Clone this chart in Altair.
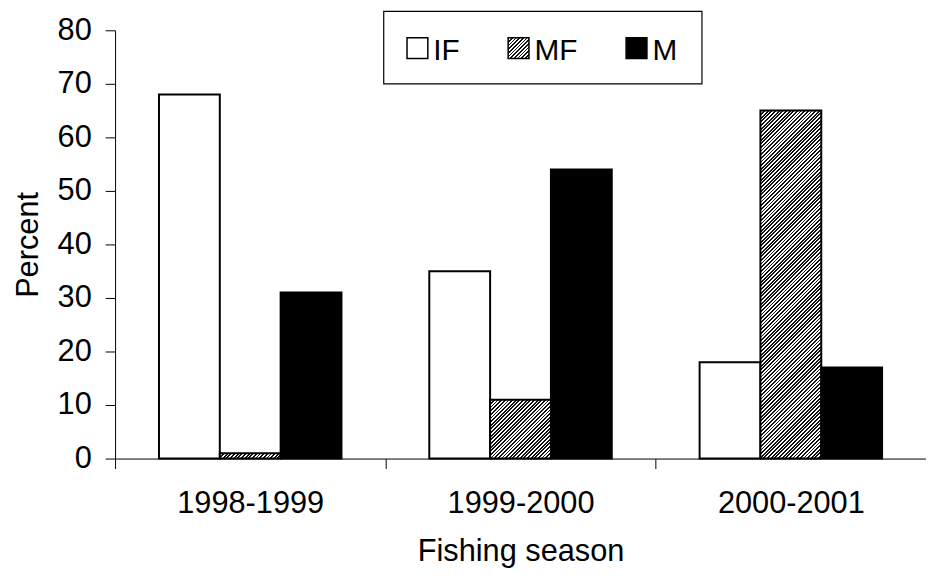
import altair as alt
import pandas as pd

# ---- data ----
seasons = ["1998-1999", "1999-2000", "2000-2001"]
series = ["IF", "MF", "M"]
values_IF = [68, 35, 18]
values_MF = [1, 11, 65]
values_M = [31, 54, 17]
y_ticks = [0, 10, 20, 30, 40, 50, 60, 70, 80]

# ---- style ----
WIDTH, HEIGHT, YMAX = 818, 432, 80
GROUP_PAD = 0.722
FONT = "Liberation Sans"
FS = 31
DARK = "#111111"
LEG_SYM_X = {"IF": 305, "MF": 407, "M": 526}
LEG_SYM_Y = 18
LEG_TXT_Y = 29

rows = []
for i, s in enumerate(seasons):
    for name, vals in zip(series, [values_IF, values_MF, values_M]):
        rows.append({"season": s, "series": name, "value": vals[i]})
df = pd.DataFrame(rows)


def hatch(w, h, period=2.6, frac=0.5):
    """Linear gradient with sharp stops that draws 45-degree '/' stripes in a w x h box."""
    r = h / w
    k = (w + h) / (w * (1 + r * r))
    dt = period * 2 ** 0.5 / (w + h)
    stops = []
    i = 0
    while True:
        a = i * dt
        if a >= 1:
            break
        b = min(a + frac * dt, 1.0)
        c = min(a + dt, 1.0)
        stops += [
            {"offset": round(a, 5), "color": DARK},
            {"offset": round(b, 5), "color": DARK},
            {"offset": round(b, 5), "color": "white"},
            {"offset": round(c, 5), "color": "white"},
        ]
        i += 1
    return {"gradient": "linear", "x1": 0, "y1": 0, "x2": k, "y2": k * r, "stops": stops}


band = WIDTH / len(seasons)
bar_w = band / (len(series) + 2 * GROUP_PAD)

conds = []
for s, v in zip(seasons, values_MF):
    h = max(v / YMAX * HEIGHT, 1.0)
    conds.append({"test": f"datum.series === 'MF' && datum.season === '{s}'",
                  "value": hatch(bar_w, h)})
conds.append({"test": "datum.series === 'M'", "value": "black"})

bars = alt.Chart(df).mark_bar(stroke="black", strokeWidth=2).encode(
    x=alt.X("season:N", sort=seasons,
            scale=alt.Scale(paddingInner=0, paddingOuter=0),
            axis=alt.Axis(title="Fishing season", labelAngle=0, tickBand="extent",
                          tickSize=10, labelPadding=20, labelFont=FONT, labelFontSize=FS,
                          labelColor="black", domainColor="black", tickColor="black",
                          titleFont=FONT, titleFontSize=FS, titleFontWeight="normal",
                          titleColor="black", titleBaseline="alphabetic", titleY=103)),
    xOffset=alt.XOffset("series:N", sort=series,
                        scale=alt.Scale(paddingInner=0, paddingOuter=GROUP_PAD)),
    y=alt.Y("value:Q", scale=alt.Scale(domain=[0, YMAX], nice=False),
            axis=alt.Axis(title="Percent", values=y_ticks, grid=False, tickSize=10,
                          labelPadding=14, labelFont=FONT, labelFontSize=FS,
                          labelColor="black", domainColor="black", tickColor="black",
                          titleFont=FONT, titleFontSize=FS, titleFontWeight="normal",
                          titleColor="black", titleAngle=270, titleBaseline="alphabetic",
                          titleX=-78, titleY=HEIGHT / 2)),
    fill=alt.value("white", condition=conds),
)

box = alt.Chart(pd.DataFrame({"k": [0]})).mark_rect(
    fill="white", stroke="black", strokeWidth=1.2
).encode(x=alt.value(271), x2=alt.value(592), y=alt.value(-19), y2=alt.value(54))

legend_df = pd.DataFrame({"series": series})
leg_fill = {"IF": "white", "MF": hatch(21, 21), "M": "black"}
items = []
for s in series:
    sym = alt.Chart(legend_df).transform_filter(f"datum.series === '{s}'").mark_square(
        size=441, stroke="black", strokeWidth=1.5, opacity=1
    ).encode(x=alt.value(LEG_SYM_X[s]), y=alt.value(LEG_SYM_Y), fill=alt.value(leg_fill[s]))
    txt = alt.Chart(legend_df).transform_filter(f"datum.series === '{s}'").mark_text(
        align="left", baseline="alphabetic", font=FONT, fontSize=30, color="black"
    ).encode(x=alt.value(LEG_SYM_X[s] + 16), y=alt.value(LEG_TXT_Y + 1), text="series:N")
    items += [sym, txt]

chart = alt.layer(bars, box, *items).properties(
    width=WIDTH, height=HEIGHT,
    autosize=alt.AutoSizeParams(type="none"),
    padding={"left": 108, "top": 20, "right": 0, "bottom": 120},
    background="white",
).configure_view(stroke=None)

chart.save("out.html", embed_options={"renderer": "svg", "actions": False})
